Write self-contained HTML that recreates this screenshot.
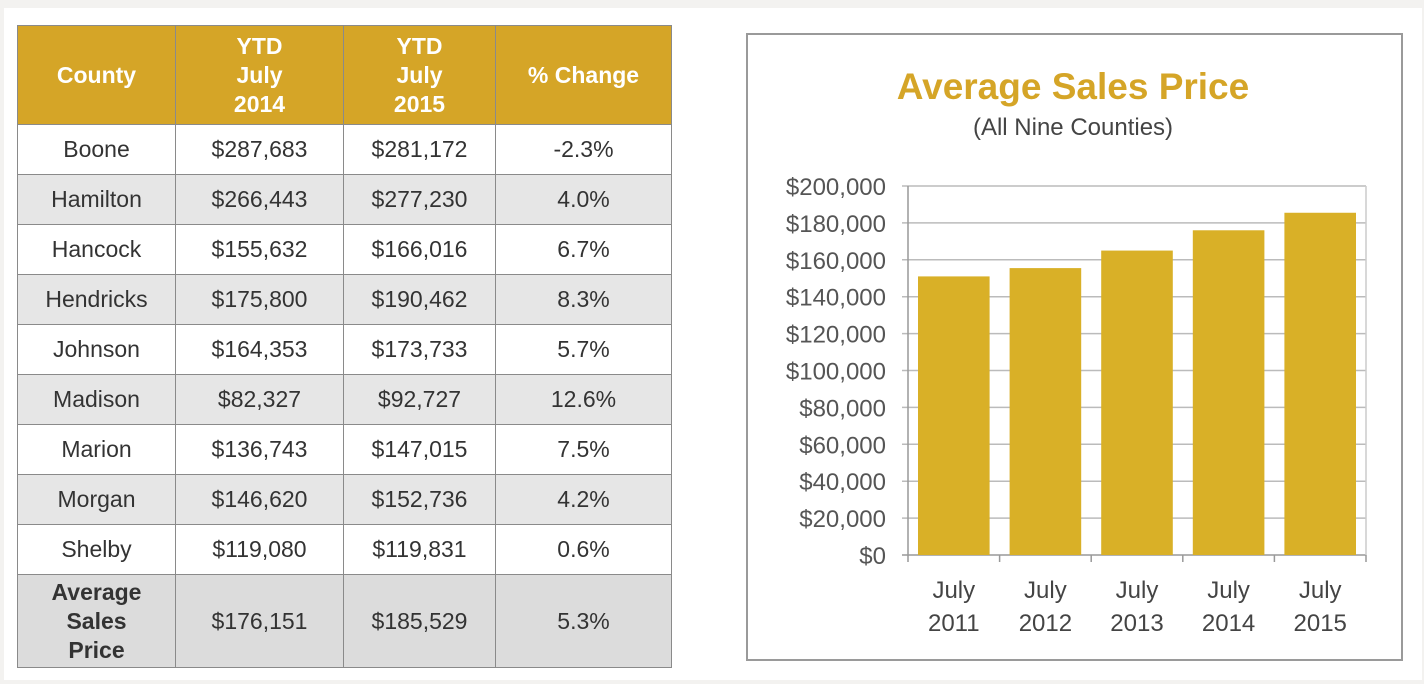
<!DOCTYPE html>
<html><head><meta charset="utf-8"><style>
body{margin:0;width:1424px;height:684px;background:#f3f2f0;font-family:"Liberation Sans",sans-serif;position:relative;overflow:hidden}
#panel{position:absolute;left:4px;top:8px;width:1418px;height:672px;background:#fff}
table{position:absolute;left:17px;top:25px;border-collapse:collapse;width:655px}
td,th{border:1.5px solid #8a8a8a;text-align:center;font-size:23px;color:#333;padding:0}
th{background:#d5a527;color:#fff;font-weight:bold;font-size:23px;line-height:29px;height:98px}
tr.r td{height:49px}
tr.g td{background:#e6e6e6}
tr.avg td{background:#dcdcdc;height:92px}
#box{position:absolute;left:746px;top:33px;width:653px;height:624px;border:2px solid #9a9a9a;background:#fff}
</style></head><body>
<div id="panel"></div>
<table>
<tr><th style="width:157px">County</th><th style="width:167px">YTD<br>July<br>2014</th><th style="width:151px">YTD<br>July<br>2015</th><th>% Change</th></tr>
<tr class="r"><td>Boone</td><td>$287,683</td><td>$281,172</td><td>-2.3%</td></tr>
<tr class="r g"><td>Hamilton</td><td>$266,443</td><td>$277,230</td><td>4.0%</td></tr>
<tr class="r"><td>Hancock</td><td>$155,632</td><td>$166,016</td><td>6.7%</td></tr>
<tr class="r g"><td>Hendricks</td><td>$175,800</td><td>$190,462</td><td>8.3%</td></tr>
<tr class="r"><td>Johnson</td><td>$164,353</td><td>$173,733</td><td>5.7%</td></tr>
<tr class="r g"><td>Madison</td><td>$82,327</td><td>$92,727</td><td>12.6%</td></tr>
<tr class="r"><td>Marion</td><td>$136,743</td><td>$147,015</td><td>7.5%</td></tr>
<tr class="r g"><td>Morgan</td><td>$146,620</td><td>$152,736</td><td>4.2%</td></tr>
<tr class="r"><td>Shelby</td><td>$119,080</td><td>$119,831</td><td>0.6%</td></tr>
<tr class="avg"><td style="font-weight:bold;line-height:29px">Average<br>Sales<br>Price</td><td>$176,151</td><td>$185,529</td><td>5.3%</td></tr>
</table>
<div id="box"></div>
<svg width="1424" height="684" style="position:absolute;left:0;top:0">
<text x="1073" y="99" text-anchor="middle" font-size="37" font-weight="bold" fill="#d5a527" font-family="Liberation Sans">Average Sales Price</text>
<text x="1073" y="135" text-anchor="middle" font-size="24" fill="#444" font-family="Liberation Sans">(All Nine Counties)</text>
<g id="g"></g>
</svg>
<script>
const categories=["July 2011","July 2012","July 2013","July 2014","July 2015"];
const values=[151000,155500,165000,176000,185500];
const ticks=[0,20000,40000,60000,80000,100000,120000,140000,160000,180000,200000];
const g=document.getElementById('g');const NS="http://www.w3.org/2000/svg";
const x0=908,x1=1366,yTop=186,yBot=555,max=200000;
const y=v=>yBot-(v/max)*(yBot-yTop);
const bw=(x1-x0)/categories.length;
function mk(t,a){const e=document.createElementNS(NS,t);for(const k in a)e.setAttribute(k,a[k]);g.appendChild(e);return e;}
ticks.forEach(t=>{
 const l=mk('line',{x1:x0-6,x2:x1,y1:y(t),y2:y(t),stroke:t==0?'#999':'#bbb','stroke-width':1.5});
 
 
 const tx=mk('text',{x:x0-22,y:y(t)+9,'text-anchor':'end','font-size':24,fill:'#555','font-family':'Liberation Sans'});
 tx.textContent='$'+t.toLocaleString('en-US');
 
 
});
mk('line',{x1:x0,x2:x0,y1:yTop,y2:yBot,stroke:'#999','stroke-width':1.5});
mk('line',{x1:x1,x2:x1,y1:yTop,y2:yBot,stroke:'#ccc','stroke-width':1.5});
for(let i=0;i<=categories.length;i++){mk('line',{x1:x0+i*bw,x2:x0+i*bw,y1:yBot,y2:yBot+7,stroke:'#999','stroke-width':1.5});}
categories.forEach((c,i)=>{
 const r=mk('rect',{x:x0+i*bw+10,y:y(values[i]),width:bw-20,height:yBot-y(values[i]),fill:'#d9b027'});
 
 
 const p=c.split(' ');
 p.forEach((s,j)=>{const t=mk('text',{x:x0+(i+0.5)*bw,y:598+j*33,'text-anchor':'middle','font-size':24,fill:'#444','font-family':'Liberation Sans'});t.textContent=s;
 
 });
});
</script>
</body></html>
